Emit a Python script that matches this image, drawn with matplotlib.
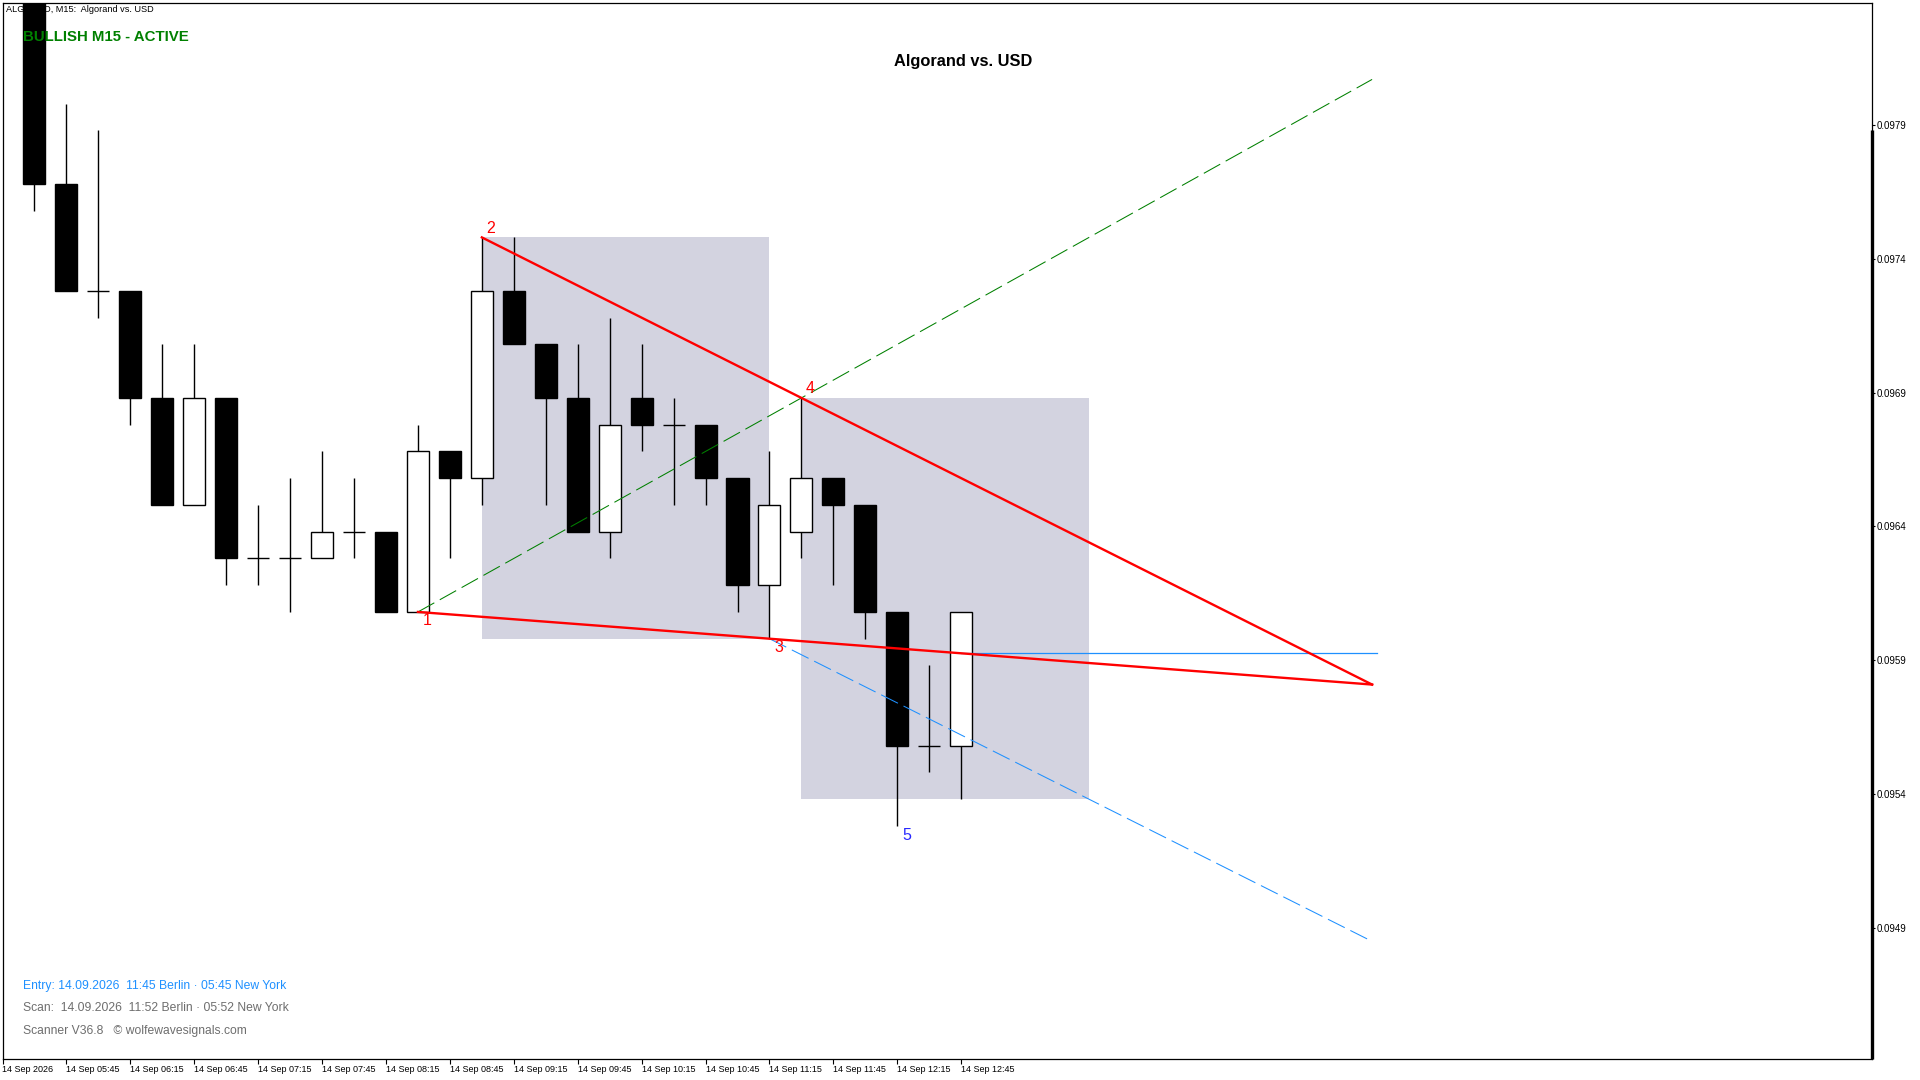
import numpy as np
import matplotlib
matplotlib.use('Agg')
import matplotlib.pyplot as plt
from matplotlib.patches import Rectangle

plt.rcParams['font.family'] = ['Liberation Sans', 'DejaVu Sans']

# ALGOUSD M15 candles, 14 Sep 2026 05:30 .. 12:45 (bar index 1..30)
opens = [0.0985, 0.0977, 0.0973, 0.0973, 0.0969, 0.0965, 0.0969, 0.0963, 0.0963, 0.0963,
         0.0964, 0.0964, 0.0961, 0.0967, 0.0966, 0.0973, 0.0971, 0.0969, 0.0964, 0.0969,
         0.0968, 0.0968, 0.0966, 0.0962, 0.0964, 0.0966, 0.0965, 0.0961, 0.0956, 0.0956]
highs = [0.0986, 0.0980, 0.0979, 0.0973, 0.0971, 0.0971, 0.0969, 0.0965, 0.0966, 0.0967,
         0.0966, 0.0964, 0.0968, 0.0967, 0.0975, 0.0975, 0.0971, 0.0971, 0.0972, 0.0971,
         0.0969, 0.0968, 0.0966, 0.0967, 0.0969, 0.0966, 0.0965, 0.0961, 0.0959, 0.0961]
lows = [0.0976, 0.0973, 0.0972, 0.0968, 0.0965, 0.0965, 0.0962, 0.0962, 0.0961, 0.0963,
        0.0963, 0.0961, 0.0961, 0.0963, 0.0965, 0.0971, 0.0965, 0.0964, 0.0963, 0.0967,
        0.0965, 0.0965, 0.0961, 0.0960, 0.0963, 0.0962, 0.0960, 0.0953, 0.0955, 0.0954]
closes = [0.0977, 0.0973, 0.0973, 0.0969, 0.0965, 0.0969, 0.0963, 0.0963, 0.0963, 0.0964,
          0.0964, 0.0961, 0.0967, 0.0966, 0.0973, 0.0971, 0.0969, 0.0964, 0.0968, 0.0968,
          0.0968, 0.0966, 0.0962, 0.0965, 0.0966, 0.0965, 0.0961, 0.0956, 0.0956, 0.0961]

# wolfe wave points: bar index of 1..5 (1,3,5 lows / 2,4 highs)
wave_bars = [13, 15, 24, 25, 28]
wave_names = ['1', '2', '3', '4', '5']

price_ticks = [0.09792, 0.09742, 0.09692, 0.09642, 0.09592, 0.09542, 0.09492]
price_labels = ['0.0979', '0.0974', '0.0969', '0.0964', '0.0959', '0.0954', '0.0949']
time_ticks = list(range(0, 31, 2))
time_labels = ['14 Sep 2026', '14 Sep 05:45', '14 Sep 06:15', '14 Sep 06:45', '14 Sep 07:15',
               '14 Sep 07:45', '14 Sep 08:15', '14 Sep 08:45', '14 Sep 09:15', '14 Sep 09:45',
               '14 Sep 10:15', '14 Sep 10:45', '14 Sep 11:15', '14 Sep 11:45', '14 Sep 12:15',
               '14 Sep 12:45']

W, H = 1920, 1080
fig = plt.figure(figsize=(19.2, 10.8), dpi=100)
ax = fig.add_axes([2.5 / W, (H - 1059) / H, (1872 - 2.5) / W, (1059 - 2.5) / H])
ax.set_xlim(0, 58.5)
ax.set_ylim(0.094429, 0.098378)

o = np.array(opens)
c = np.array(closes)
hi = np.array(highs)
lo = np.array(lows)
x = np.arange(1, len(o) + 1)

# shaded zones (copy of the 2-3 box starting at point 4)
t1, t2, t3, t4, t5 = wave_bars
p1, p2, p3, p4, p5 = lo[t1 - 1], hi[t2 - 1], lo[t3 - 1], hi[t4 - 1], lo[t5 - 1]
box_color = '#D3D3E0'
ax.add_patch(Rectangle((t2, p3), t3 - t2, p2 - p3, color=box_color, lw=0, zorder=1))
ax.add_patch(Rectangle((t4, p4 - (p2 - p3)), t3 - t2, p2 - p3, color=box_color, lw=0, zorder=1))

# candles
ax.vlines(x, lo, hi, color='black', lw=1.0, zorder=3)
flat = np.isclose(o, c)
body = ~flat
fill = np.where(c > o, 'white', 'black')
ax.bar(x[body], np.abs(c - o)[body], bottom=np.minimum(o, c)[body], width=0.69,
       color=fill[body], edgecolor='black', linewidth=1.0, zorder=4)
ax.hlines(o[flat], x[flat] - 0.345, x[flat] + 0.345, color='black', lw=1.0, zorder=4)

# wolfe lines
s13 = (p3 - p1) / (t3 - t1)
s24 = (p4 - p2) / (t4 - t2)
s14 = (p4 - p1) / (t4 - t1)
t_end = (p2 - p1 - s24 * t2 + s13 * t1) / (s13 - s24)

ax.plot([t1, t_end], [p1, p1 + s13 * (t_end - t1)], color='#FF0000', lw=1.7, zorder=6)
ax.plot([t2, t_end], [p2, p2 + s24 * (t_end - t2)], color='#FF0000', lw=1.7, zorder=6)
ax.plot([t1, t_end], [p1, p1 + s14 * (t_end - t1)], color='#008000', lw=0.75,
        dashes=(18, 6), zorder=5)
ax.plot([t3, t_end], [p3, p3 + s24 * (t_end - t3)], color='#1E90FF', lw=0.75,
        dashes=(18, 6), zorder=5)
last = x[-1]
entry = p1 + s13 * (last - t1)
ax.plot([last, np.ceil(t_end)], [entry, entry], color='#1E90FF', lw=0.9, zorder=5)

# point labels
wave_prices = [p1, p2, p3, p4, p5]
for k, (tb, pv, name) in enumerate(zip(wave_bars, wave_prices, wave_names)):
    dy = 6.5 if k in (1, 3) else -6.5
    col = '#2828FF' if name == '5' else '#FF0000'
    ax.annotate(name, (tb, pv), xytext=(6.5, dy), textcoords='offset points',
                ha='center', va='center', fontsize=11.5, color=col, zorder=7)

# axes styling
for sp in ax.spines.values():
    sp.set_linewidth(0.9)
ax.yaxis.tick_right()
ax.set_yticks(price_ticks)
ax.set_yticklabels(price_labels)
ax.tick_params(axis='y', direction='out', length=2.5, pad=1, labelsize=7, width=0.8)
ax.set_xticks(time_ticks)
ax.set_xticklabels(time_labels, ha='left')
ax.tick_params(axis='x', direction='out', length=3.5, pad=1, labelsize=6.5, width=0.8)
ax.plot([1, 1], [0, 0.879], transform=ax.transAxes, color='black', lw=2.4,
        solid_capstyle='butt', clip_on=False, zorder=8)

# texts
tf = fig.transFigure
ax.text(6.5 / W, 1 - 9.5 / H, 'ALGOUSD, M15:  Algorand vs. USD', transform=tf,
        fontsize=6.6, va='center', ha='left', zorder=1)
ax.text(23 / W, 1 - 36.7 / H, 'BULLISH M15 - ACTIVE', transform=tf, fontsize=10.8,
        fontweight='bold', color='#008000', va='center', ha='left', zorder=10)
ax.text(963 / W, 1 - 61.7 / H, 'Algorand vs. USD', transform=tf, fontsize=11.8,
        fontweight='bold', color='black', va='center', ha='center', zorder=10)
ax.text(23 / W, 1 - 986 / H, 'Entry: 14.09.2026  11:45 Berlin \u00b7 05:45 New York',
        transform=tf, fontsize=8.7, color='#1E90FF', va='center', ha='left', zorder=10)
ax.text(23 / W, 1 - 1008.3 / H, 'Scan:  14.09.2026  11:52 Berlin \u00b7 05:52 New York',
        transform=tf, fontsize=8.7, color='#6E6E6E', va='center', ha='left', zorder=10)
ax.text(23 / W, 1 - 1031 / H, 'Scanner V36.8   \u00a9 wolfewavesignals.com',
        transform=tf, fontsize=8.7, color='#6E6E6E', va='center', ha='left', zorder=10)

fig.savefig('out.png', dpi=100)
